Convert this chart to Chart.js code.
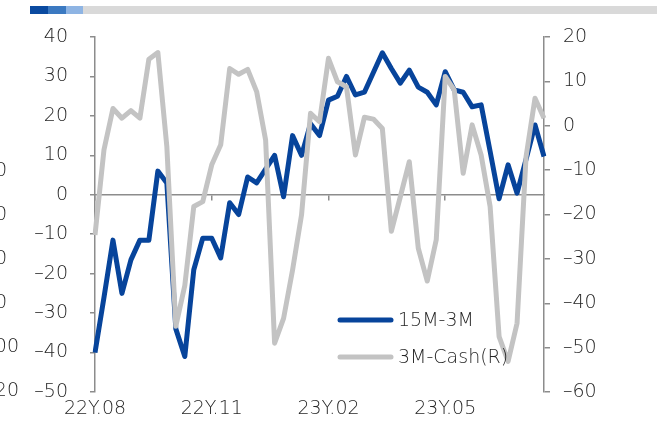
<!DOCTYPE html>
<html>
<head>
<meta charset="utf-8">
<script src="https://cdn.jsdelivr.net/npm/chart.js@4.4.0/dist/chart.umd.min.js"></script>
<style>
  html, body { margin: 0; padding: 0; background: #fff; }
</style>
</head>
<body>
<canvas id="spreadChart" width="657" height="439"></canvas>
<script>
// weekly observations, first one on 2022-08-05
const weeks = [];
const start = new Date(2022, 7, 5);
for (let n = 0; n < 51; n++) {
  const d = new Date(start.getTime() + n * 7 * 86400000);
  weeks.push(d.toISOString().slice(0, 10));
}

// 15M-3M spread (left axis)
const spread15m3m = [
  -40, -26, -11.5, -25, -16.5, -11.5, -11.5, 6, 3, -34,
  -41, -19, -11, -11, -16, -2, -5, 4.5, 3, 6.5,
  10, -0.5, 15, 10, 18, 15, 24, 25, 30, 25.3,
  26, 31, 36, 32, 28.3, 31.6, 27.3, 26, 22.8, 31.2,
  26.6, 26, 22.3, 22.8, 11, -1, 7.6, 0.4, 9, 17.7,
  9.7
];

// 3M-Cash spread (right axis)
const spread3mCash = [
  -24.6, -5.4, 3.9, 1.7, 3.4, 1.7, 15, 16.5, -4.7, -45.2,
  -36, -18.2, -17.1, -8.8, -4.3, 12.9, 11.6, 12.7, 7.7, -3.2,
  -49, -43.4, -32.5, -20.1, 2.8, 0.9, 15.2, 9.9, 8.8, -6.6,
  1.9, 1.5, -0.6, -23.8, -16, -8.1, -27.6, -35, -25.7, 11.1,
  8.1, -10.7, 0.2, -6.6, -18.2, -47.5, -53.1, -44.5, -7, 6.2,
  1.7
];

// one axis label every 13 weeks
const tickLabels = ['22Y.08', '22Y.11', '23Y.02', '23Y.05'];
const tickEvery = 13;

// tail ends of the neighbouring panel's axis, cut by the left edge
const edgeLabels = ['120', '100', '0', '0', '0', '0'];

const FONT = '"DejaVu Sans", "Noto Sans", sans-serif';
const TEXT = '#262626';
const AXIS = '#8c8c8c';
const BLUE = '#07449b';
const GREY = '#c3c3c3';

const minus = v => (v < 0 ? '\u2013' + Math.abs(v) : String(v));
const keepQuarterTicks = s => { s.ticks = s.ticks.filter(t => t.value % tickEvery === 0); };

const decorations = {
  id: 'decorations',
  beforeDraw(chart) {
    const ctx = chart.ctx;
    ctx.save();
    // header strip
    ctx.fillStyle = '#d9d9d9'; ctx.fillRect(83, 6, chart.width - 83, 8);
    ctx.fillStyle = '#0a4aa0'; ctx.fillRect(30, 6, 18, 8);
    ctx.fillStyle = '#3b79c1'; ctx.fillRect(48, 6, 18, 8);
    ctx.fillStyle = '#8eb4e3'; ctx.fillRect(66, 6, 17, 8);
    // clipped labels at the far left
    ctx.font = '200 19px ' + FONT;
    ctx.fillStyle = TEXT;
    ctx.textAlign = 'right';
    ctx.textBaseline = 'middle';
    const bottom = chart.chartArea.bottom;
    edgeLabels.forEach((t, k) => {
      ctx.fillText(t, t.length > 1 ? 19 : 7, bottom - 1 - 44 * k);
    });
    ctx.restore();
  },
  afterDraw(chart) {
    // legend, bottom right of the plot
    const ctx = chart.ctx;
    ctx.save();
    ctx.font = '200 19px ' + FONT;
    ctx.textAlign = 'left';
    ctx.textBaseline = 'middle';
    chart.data.datasets.forEach((ds, k) => {
      const y = 320 + 37 * k;
      ctx.strokeStyle = ds.borderColor;
      ctx.lineWidth = 5;
      ctx.lineCap = 'round';
      ctx.beginPath();
      ctx.moveTo(340, y);
      ctx.lineTo(391, y);
      ctx.stroke();
      ctx.fillStyle = TEXT;
      ctx.fillText(ds.label, 398, y + 1);
    });
    ctx.restore();
  }
};

Chart.defaults.font.family = FONT;
Chart.defaults.font.size = 19;
Chart.defaults.font.weight = 200;
Chart.defaults.color = TEXT;

new Chart(document.getElementById('spreadChart'), {
  type: 'line',
  data: {
    labels: weeks,
    datasets: [
      {
        label: '15M-3M',
        data: spread15m3m,
        yAxisID: 'y',
        borderColor: BLUE,
        borderWidth: 5,
        borderJoinStyle: 'round',
        pointRadius: 0,
        tension: 0,
        order: 1
      },
      {
        label: '3M-Cash(R)',
        data: spread3mCash,
        yAxisID: 'y1',
        borderColor: GREY,
        borderWidth: 5,
        borderJoinStyle: 'round',
        pointRadius: 0,
        tension: 0,
        order: 0
      }
    ]
  },
  options: {
    responsive: false,
    animation: false,
    devicePixelRatio: 1,
    layout: { padding: { top: 37, left: 0, right: 0, bottom: 0 } },
    plugins: { legend: { display: false }, tooltip: { enabled: false } },
    scales: {
      x: {
        type: 'category',
        position: { y: 0 },
        afterBuildTicks: keepQuarterTicks,
        ticks: { display: false },
        grid: { drawOnChartArea: false, drawTicks: true, tickLength: 5, color: AXIS, lineWidth: 1.5 },
        border: { display: true, color: AXIS, width: 1.5 }
      },
      xb: {
        type: 'category',
        position: 'bottom',
        afterBuildTicks: keepQuarterTicks,
        afterFit: s => { s.height = 47; },
        ticks: {
          autoSkip: false,
          maxRotation: 0,
          padding: 6,
          callback: (v, i) => tickLabels[i]
        },
        grid: { display: false, drawTicks: false },
        border: { display: false }
      },
      y: {
        position: 'left',
        min: -50,
        max: 40,
        afterFit: s => { s.width = 95; },
        ticks: { stepSize: 10, padding: 22, callback: minus },
        grid: { drawOnChartArea: false, tickLength: 5, color: AXIS, lineWidth: 1.5 },
        border: { color: AXIS, width: 1.5 }
      },
      y1: {
        position: 'right',
        min: -60,
        max: 20,
        afterFit: s => { s.width = 113; },
        ticks: { stepSize: 10, padding: 13, callback: minus },
        grid: { drawOnChartArea: false, tickLength: 6, color: AXIS, lineWidth: 1.5 },
        border: { color: AXIS, width: 1.5 }
      }
    }
  },
  plugins: [decorations]
});
</script>
</body>
</html>
